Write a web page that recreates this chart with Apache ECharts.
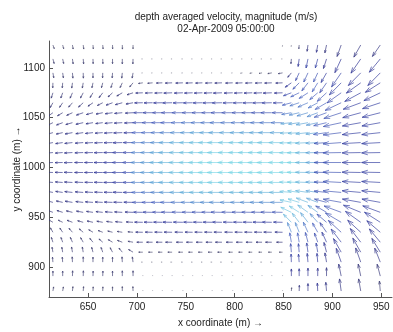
<!DOCTYPE html>
<html><head><meta charset="utf-8">
<script src="https://cdn.jsdelivr.net/npm/echarts@6/dist/echarts.min.js"></script>
<style>html,body{margin:0;padding:0;background:#fff}#c{width:393px;height:332px}</style>
</head><body><div id="c"></div>
<script>
// grid point positions (m)
const xCols = [614,624,634,645,655,665,675,685,696,706,716,726,736,747,757,767,777,787,798,808,818,828,838,849,858,866,875,885,894,909,929,949];
const yRows = [1123,1109,1095,1085,1075,1065,1055,1045,1035,1025,1015,1005,995,985,975,965,955,945,935,925,915,905,891,876];
const xTicks = [650,700,750,800,850,900,950];
const yTicks = [900,950,1000,1050,1100];

// depth averaged speed (cm/s), one row per yRows entry, one value per xCols entry
const speedCm = [
 [14,14,14,14,14,14,14,14,13, 0,0,0,0,0,0,0,0,0,0,0,0,0,0,5, 6,16,24,28,24, 25,25,25],
 [17,17,17,17,17,17,17,17,17, 4,4,4,4,4,4,4,4,4,4,4,4,4,4,4, 20,32,35,35,30, 31,31,31],
 [18,18,18,18,18,18,18,18,18, 4,4,4,4,4,4,4,4,4,4,7,9,11,14,16, 24,36,38,38,33, 35,32,32],
 [18,18,18,18,18,18,18,18,18, 16,18,22,24,25,25,25,25,25,25,25,25,25,25,25, 32,38,38,40,36, 35,32,32],
 [20,20,20,20,20,22,22,22,22, 26,27,28,29,30,30,30,30,30,30,30,30,30,30,30, 36,40,40,40,38, 36,33,33],
 [20,20,20,22,22,22,25,25,25, 30,31,32,33,34,34,34,34,34,34,34,34,34,34,34, 40,42,42,42,40, 37,34,34],
 [22,22,22,25,25,25,27,27,27, 34,35,36,37,38,38,38,38,38,38,38,38,38,38,38, 42,44,44,44,40, 38,34,34],
 [22,24,24,26,26,26,28,28,30, 37,38,39,40,41,42,42,42,42,42,42,42,42,42,42, 46,46,46,45,40, 38,34,34],
 [24,24,26,26,28,28,30,30,32, 40,41,42,43,44,45,46,46,46,46,46,46,46,46,46, 48,48,47,46,40, 38,34,34],
 [25,26,27,28,29,30,31,32,34, 42,43,44,46,47,48,49,50,50,50,50,50,50,50,50, 50,50,48,46,38, 38,34,34],
 [26,27,28,29,30,31,32,34,36, 43,44,46,47,48,49,50,51,51,51,51,51,51,51,51, 51,51,48,46,38, 38,34,34],
 [27,28,29,30,31,32,33,35,37, 44,45,47,48,49,50,51,52,52,52,52,52,52,52,52, 52,52,48,46,38, 38,34,34],
 [27,28,29,30,31,32,33,35,37, 44,45,47,48,49,50,51,52,52,52,52,52,52,52,52, 52,52,48,46,38, 38,34,34],
 [26,27,28,29,30,31,32,34,36, 43,44,46,47,48,49,50,51,51,51,51,51,51,51,51, 51,51,48,46,38, 38,34,34],
 [25,26,27,28,29,30,31,32,34, 41,42,43,45,46,47,48,48,48,48,48,48,48,48,48, 50,50,48,46,38, 38,34,34],
 [24,24,26,26,28,28,30,30,32, 38,39,40,41,42,43,44,44,44,44,44,44,44,44,44, 50,50,48,46,38, 38,34,34],
 [22,22,22,24,24,25,27,27,28, 34,35,36,37,38,38,38,38,38,38,38,38,38,38,38, 50,50,48,46,38, 38,34,34],
 [18,18,20,20,22,22,22,24,24, 30,31,32,32,33,33,33,33,33,33,33,33,33,33,33, 48,48,46,44,38, 38,34,34],
 [18,18,18,18,18,18,18,18,18, 26,27,28,28,28,28,28,28,28,28,28,28,28,28,28, 44,44,42,40,35, 36,32,32],
 [18,18,18,18,18,18,18,18,18, 22,22,23,23,23,23,23,23,23,23,23,23,22,22,22, 40,40,38,37,33, 34,31,31],
 [18,18,18,18,18,18,18,18,18, 15,15,15,15,15,15,15,15,15,14,14,13,12,12,12, 36,36,35,35,30, 32,29,29],
 [18,18,18,18,18,18,18,18,18, 5,5,5,5,5,5,5,5,5,5,5,5,5,5,5, 34,34,33,33,28, 30,27,27],
 [18,18,18,18,18,18,18,18,18, 3,3,3,3,3,3,3,3,3,3,3,3,3,3,3, 30,31,30,30,25, 25,22,22],
 [15,15,15,15,15,15,15,15,15, 3,3,3,3,3,3,3,3,3,3,3,3,3,3,3, 14,24,28,30,26, 25,22,18]
];

// flow direction (degrees, counter-clockwise from east)
const dirDeg = [
 [290,285,280,278,275,275,272,272,270, 0,0,0,0,0,0,0,0,0,0,0,0,0,0,265, 265,265,262,260,258, 250,240,235],
 [285,282,278,275,272,272,270,270,268, 180,180,180,180,180,180,180,180,180,180,180,180,180,180,180, 265,262,258,255,252, 245,235,230],
 [280,278,275,272,270,268,266,264,260, 185,185,185,185,185,185,185,185,185,185,190,190,190,190,190, 230,245,245,245,240, 235,225,225],
 [268,265,262,260,258,255,252,245,230, 188,185,182,182,182,182,182,182,182,182,182,182,182,182,182, 215,225,232,238,235, 225,215,212],
 [252,250,246,242,238,232,222,210,198, 182,182,182,182,182,182,182,182,182,182,182,182,182,182,182, 200,205,212,220,222, 215,208,205],
 [240,235,228,222,214,206,200,195,190, 181,181,181,181,181,181,181,181,181,181,181,181,181,181,181, 195,198,203,208,210, 205,200,198],
 [215,210,204,199,195,191,188,185,183, 180,180,180,180,180,180,180,180,180,180,180,180,180,180,180, 190,193,196,200,200, 198,195,194],
 [205,200,195,192,189,187,185,183,182, 180,180,180,180,180,180,180,180,180,180,180,180,180,180,180, 186,188,190,192,193, 192,190,190],
 [195,192,190,188,186,184,183,182,181, 180,180,180,180,180,180,180,180,180,180,180,180,180,180,180, 183,184,186,187,188, 187,186,186],
 [190,188,186,184,183,182,181,181,180, 180,180,180,180,180,180,180,180,180,180,180,180,180,180,180, 182,182,183,183,184, 184,183,183],
 [185,184,183,182,181,181,180,180,180, 180,180,180,180,180,180,180,180,180,180,180,180,180,180,180, 181,181,181,181,181, 181,181,181],
 [182,181,181,180,180,180,180,180,180, 180,180,180,180,180,180,180,180,180,180,180,180,180,180,180, 180,180,180,180,180, 180,180,180],
 [178,179,179,180,180,180,180,180,180, 180,180,180,180,180,180,180,180,180,180,180,180,180,180,180, 179,179,179,179,179, 179,179,179],
 [175,176,177,178,179,179,180,180,180, 180,180,180,180,180,180,180,180,180,180,180,180,180,180,180, 178,178,178,178,178, 177,177,177],
 [170,172,174,176,177,178,179,179,180, 180,180,180,180,180,180,180,180,180,180,180,180,180,180,180, 175,172,172,172,174, 175,175,175],
 [165,168,171,174,176,177,178,179,179, 180,180,180,180,180,180,180,180,180,180,180,180,180,180,180, 168,163,160,160,165, 170,170,170],
 [160,163,167,170,172,174,176,177,178, 179,179,179,179,179,179,179,179,179,179,179,179,179,179,179, 155,148,145,145,150, 160,158,160],
 [150,155,160,165,168,170,172,175,177, 179,179,179,179,179,179,179,179,179,179,179,179,179,179,179, 135,128,128,132,140, 150,145,148],
 [120,125,132,140,150,160,166,171,175, 179,179,179,179,179,179,179,179,179,179,179,179,179,179,179, 112,112,115,120,125, 138,138,140],
 [108,110,114,120,130,140,150,160,170, 180,180,180,180,180,180,180,180,180,180,180,180,180,180,180, 100,100,105,110,115, 128,128,130],
 [100,100,100,100,105,110,118,130,150, 180,180,180,180,180,180,180,180,180,180,180,180,180,180,180, 95,95,98,100,105, 120,120,122],
 [95,95,93,90,90,90,90,93,98, 180,180,180,180,180,180,180,180,180,180,180,180,180,180,180, 92,95,95,95,100, 110,110,112],
 [90,90,88,88,88,88,90,90,90, 90,90,90,90,90,90,90,90,90,90,90,90,90,90,90, 90,90,90,90,90, 102,102,105],
 [80,80,84,85,87,88,90,90,92, 90,90,90,90,90,90,90,90,90,90,90,90,90,90,90, 85,88,90,93,95, 98,100,95]
];

// arrows are drawn in proportion to speed and to the local grid spacing
const ARROW_M_PER_MS = 28.6;
const cellF = xCols.map((x, i) => {
  const a = i > 0 ? x - xCols[i - 1] : xCols[1] - xCols[0];
  const b = i < xCols.length - 1 ? xCols[i + 1] - x : a;
  return (a + b) / 2 / 10.2;
});

// speed colour ramp (cm/s -> rgb)
const ramp = [
  [0, [210,210,216]], [5, [150,150,165]], [12, [80,80,110]], [22, [55,55,120]],
  [32, [45,50,150]], [40, [70,95,190]], [46, [95,165,215]], [52, [125,215,230]], [60, [135,228,236]]
];
function speedColor(s) {
  for (let i = 1; i < ramp.length; i++) {
    if (s <= ramp[i][0]) {
      const [s0, c0] = ramp[i - 1], [s1, c1] = ramp[i];
      const t = (s - s0) / (s1 - s0);
      const c = c0.map((v, k) => Math.round(v + (c1[k] - v) * t));
      return 'rgb(' + c.join(',') + ')';
    }
  }
  return 'rgb(' + ramp[ramp.length - 1][1].join(',') + ')';
}

const vectors = [];
yRows.forEach((Y, r) => xCols.forEach((X, c) => {
  const s = speedCm[r][c];
  if (!s) return;
  const a = dirDeg[r][c] * Math.PI / 180;
  vectors.push([X, Y, s / 100 * Math.cos(a), s / 100 * Math.sin(a), s, c]);
}));

const chart = echarts.init(document.getElementById('c'), null, { renderer: 'canvas' });
const FONT = 'Liberation Sans, Arial, sans-serif';
chart.setOption({
  animation: false,
  backgroundColor: '#fff',
  title: {
    text: 'depth averaged velocity, magnitude (m/s)\n02-Apr-2009 05:00:00',
    left: 221, top: 6, textAlign: 'center',
    textStyle: { fontFamily: FONT, fontSize: 10, fontWeight: 'normal', color: '#222', lineHeight: 12 }
  },
  grid: { left: 49, right: 1, top: 41, bottom: 35, containLabel: false, outerBoundsMode: 'none' },
  xAxis: {
    type: 'value', min: 610, max: 961,
    name: 'x coordinate (m) \u2192', nameLocation: 'middle', nameGap: 21, nameMoveOverlap: false,
    nameTextStyle: { fontFamily: FONT, fontSize: 10, color: '#222' },
    axisLine: { lineStyle: { color: '#555', width: 1 } },
    axisTick: { inside: true, length: 4, customValues: xTicks, lineStyle: { color: '#555' } },
    axisLabel: { customValues: xTicks, formatter: v => String(v), fontFamily: FONT, fontSize: 10, color: '#222', margin: 5, hideOverlap: false },
    splitLine: { show: false }
  },
  yAxis: {
    type: 'value', min: 870, max: 1127,
    name: 'y coordinate (m) \u2192', nameLocation: 'middle', nameGap: 27, nameRotate: 90, nameMoveOverlap: false,
    nameTextStyle: { fontFamily: FONT, fontSize: 10, color: '#222' },
    axisLine: { show: true, lineStyle: { color: '#555', width: 1 } },
    axisTick: { show: true, inside: true, length: 4, customValues: yTicks, lineStyle: { color: '#555' } },
    axisLabel: { customValues: yTicks, formatter: v => String(v), fontFamily: FONT, fontSize: 10, color: '#222', margin: 4 },
    splitLine: { show: false }
  },
  series: [{
    type: 'custom',
    coordinateSystem: 'cartesian2d',
    clip: true,
    encode: { x: 0, y: 1 },
    data: vectors,
    renderItem(params, api) {
      const X = api.value(0), Y = api.value(1), u = api.value(2), v = api.value(3);
      const s = api.value(4), k = ARROW_M_PER_MS * cellF[api.value(5)];
      const p0 = api.coord([X, Y]);
      const p1 = api.coord([X + u * k, Y + v * k]);
      const dx = p1[0] - p0[0], dy = p1[1] - p0[1];
      const al = 0.33, be = 0.33;
      const h1 = [p1[0] - al * (dx + be * dy), p1[1] - al * (dy - be * dx)];
      const h2 = [p1[0] - al * (dx - be * dy), p1[1] - al * (dy + be * dx)];
      const style = { stroke: speedColor(s), lineWidth: 0.8, fill: null, opacity: 0.85 };
      return {
        type: 'group',
        children: [
          { type: 'polyline', shape: { points: [p0, p1] }, style },
          { type: 'polyline', shape: { points: [h1, p1, h2] }, style }
        ]
      };
    }
  }]
});
</script>
</body></html>
